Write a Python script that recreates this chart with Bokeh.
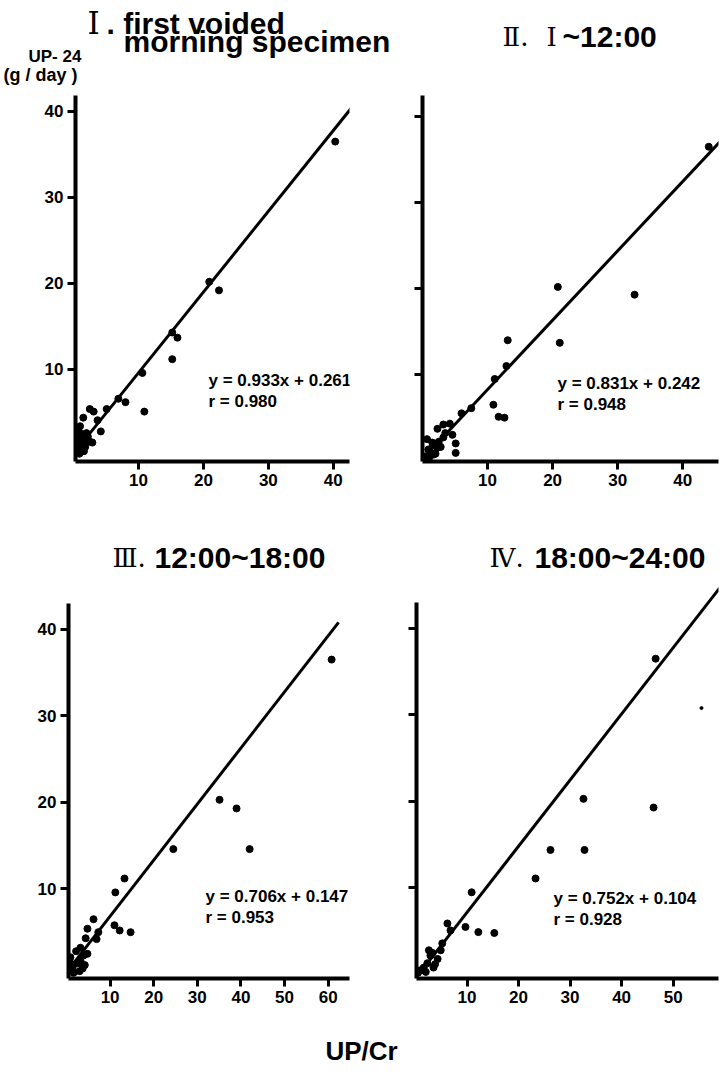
from bokeh.plotting import figure
from bokeh.models import Range1d, Label, FixedTicker
from bokeh.layouts import column, row
from bokeh.embed import file_html
from bokeh.resources import INLINE

# ---------------- data ----------------
# Panel I : first voided morning specimen
p1_x = [40.3, 20.9, 22.4, 15.2, 16.0, 15.2, 10.6, 10.9, 8.0, 6.9, 5.1, 2.5, 3.1, 1.5,
        4.2, 3.7, 2.9, 2.0, 1.2, 0.3, 0.5, 0.8, 1.0, 0.4, 1.2, 0.6, 1.5, 2.0, 1.8,
        2.5, 0.2, 0.9, 1.3, 0.7, 2.2, 0.5, 1.6, 0.3, 1.0]
p1_y = [36.5, 20.2, 19.2, 14.3, 13.7, 11.2, 9.6, 5.1, 6.2, 6.6, 5.4, 5.4, 5.1, 4.4,
        2.8, 4.1, 1.5, 2.6, 2.1, 0.3, 0.8, 0.5, 1.2, 1.5, 0.7, 2.0, 1.5, 1.8, 1.0,
        1.6, 0.6, 0.2, 2.5, 3.0, 2.2, 1.1, 0.5, 2.4, 3.4]
p1_line_x = [0.3, 43.0]
p1_line_y = [0.5, 40.6]

# Panel II : I ~ 12:00
p2_x = [44.0, 20.8, 32.6, 21.1, 13.1, 12.9, 11.1, 10.9, 11.7, 12.6, 7.5, 6.0, 4.2,
        3.2, 2.3, 4.6, 5.1, 5.1, 3.2, 2.8, 1.5, 0.9, 1.7, 2.3, 0.5, 1.0, 1.2, 2.0,
        1.6, 2.5, 3.5, 0.7]
p2_y = [36.5, 20.2, 19.3, 13.7, 14.0, 11.0, 9.5, 6.5, 5.1, 5.0, 6.1, 5.5, 4.3,
        4.2, 3.7, 3.0, 2.0, 0.9, 2.7, 1.6, 2.1, 1.3, 0.7, 1.5, 0.5, 0.3, 1.0, 0.8,
        1.8, 2.2, 3.2, 2.5]
p2_line_x = [0.5, 46.0]
p2_line_y = [0.6, 37.3]

# Panel III : 12:00 ~ 18:00
p3_x = [60.8, 35.1, 39.0, 42.0, 24.5, 13.3, 11.2, 6.2, 4.8, 4.4, 6.9, 7.3, 11.0,
        12.2, 14.7, 3.2, 0.9, 1.4, 3.9, 3.7, 2.5, 4.8, 3.2, 1.6, 2.2, 4.2, 3.0, 0.8]
p3_y = [36.5, 20.3, 19.3, 14.6, 14.6, 11.2, 9.6, 6.5, 5.4, 4.3, 4.2, 5.0, 5.8,
        5.2, 5.0, 3.2, 2.1, 0.9, 2.3, 0.8, 1.4, 2.5, 1.7, 0.3, 2.8, 1.2, 0.5, 1.5]
p3_line_x = [1.6, 62.4]
p3_line_y = [1.4, 40.8]

# Panel IV : 18:00 ~ 24:00
p4_x = [46.6, 32.6, 46.2, 26.2, 32.8, 23.3, 10.9, 9.7, 12.2, 15.3, 6.2, 6.8,
        3.3, 4.3, 2.3, 1.0, 3.5, 2.9, 1.6, 4.9, 5.2, 2.0, 0.5, 3.8, 2.6]
p4_y = [36.5, 20.3, 19.3, 14.4, 14.4, 11.1, 9.5, 5.5, 4.9, 4.8, 5.9, 5.1,
        2.5, 1.8, 1.3, 0.5, 0.8, 2.2, 0.8, 2.8, 3.6, 0.3, 0.2, 1.2, 2.8]
p4_faint_x = [55.5]
p4_faint_y = [30.8]
p4_line_x = [1.0, 59.2]
p4_line_y = [0.3, 44.8]

y_ticks = [10, 20, 30, 40]
x_ticks_1 = [10, 20, 30, 40]
x_ticks_2 = [10, 20, 30, 40]
x_ticks_3 = [10, 20, 30, 40, 50, 60]
x_ticks_4 = [10, 20, 30, 40, 50]

eq_texts = [("y = 0.933x + 0.261", "r = 0.980"),
            ("y = 0.831x + 0.242", "r = 0.948"),
            ("y = 0.706x + 0.147", "r = 0.953"),
            ("y = 0.752x + 0.104", "r = 0.928")]

# ---------------- styling ----------------
SANS = "Liberation Sans"
SERIF = "DejaVu Serif"
TICK_FS = "17px"


def make_panel(c, xs, ys, lx, ly, xticks, show_ylabels, ybounds=None):
    p = figure(width=c["W"], height=c["H"],
               x_range=Range1d(*c["xr"]), y_range=Range1d(*c["yr"]),
               min_border_left=c["L"] - c["ox"], min_border_right=c["ox"] + c["W"] - c["R"],
               min_border_top=c["T"] - c["oy"], min_border_bottom=c["oy"] + c["H"] - c["B"],
               output_backend="svg", toolbar_location=None)
    p.outline_line_color = None
    p.grid.visible = False
    p.background_fill_color = "white"
    p.border_fill_color = "white"
    p.title.visible = False
    for ax, ticks in ((p.xaxis[0], xticks), (p.yaxis[0], y_ticks)):
        ax.ticker = FixedTicker(ticks=ticks)
        ax.axis_line_width = 4
        ax.axis_line_color = "black"
        ax.major_tick_line_width = 3
        ax.major_tick_line_color = "black"
        ax.major_tick_out = 8
        ax.major_tick_in = 0
        ax.minor_tick_line_color = None
        ax.major_label_text_font = SANS
        ax.major_label_text_font_style = "bold"
        ax.major_label_text_font_size = TICK_FS
        ax.major_label_text_color = "black"
        ax.major_label_standoff = 4
    if not show_ylabels:
        p.yaxis[0].major_label_text_color = None
    if ybounds is not None:
        p.yaxis[0].bounds = ybounds
    p.line(lx, ly, line_width=3, line_color="black")
    p.scatter(xs, ys, size=7, fill_color="black", line_color="black")
    return p


def to_data(c, px, py):
    x0, x1 = c["xr"]
    y0, y1 = c["yr"]
    x = x0 + (px - c["L"]) * (x1 - x0) / (c["R"] - c["L"])
    y = y0 + (c["B"] - py) * (y1 - y0) / (c["B"] - c["T"])
    return x, y


def add_text(p, c, px, py, text, size, font=SANS, style="bold", align="left"):
    # py is the vertical centre of the text
    x, y = to_data(c, px, py)
    p.add_layout(Label(x=x, y=y, text=text, text_font=font, text_font_size=size,
                       text_font_style=style, text_align=align,
                       text_baseline="middle", text_color="black"))


def make_header(width, height):
    # a text strip whose data units are its own pixels, y growing downward
    h = figure(width=width, height=height, x_range=Range1d(0, width), y_range=Range1d(height, 0),
               x_axis_type=None, y_axis_type=None, output_backend="svg",
               toolbar_location=None, min_border=0)
    h.outline_line_color = None
    h.grid.visible = False
    h.title.visible = False
    return h


def head_text(h, px, py, text, size, font=SANS, style="bold", align="left"):
    # py is the vertical centre of the text
    h.add_layout(Label(x=px, y=py, text=text, text_font=font, text_font_size=size,
                       text_font_style=style, text_align=align, text_baseline="middle",
                       text_color="black"))


# page-pixel layout of each panel (frames of a row share top and bottom edges)
H1_TOP, ROW1_TOP, H2_TOP, ROW2_TOP, FOOT_TOP = 0, 88, 530, 576, 1020
c1 = dict(ox=0, oy=ROW1_TOP, W=361, H=H2_TOP - ROW1_TOP, L=75, R=349, T=95, B=461,
          xr=(0.3, 42.5), yr=(-0.7, 41.86))
c2 = dict(ox=361, oy=ROW1_TOP, W=361, H=H2_TOP - ROW1_TOP, L=422, R=718, T=95, B=461,
          xr=(0.0, 45.5), yr=(-0.1, 42.46))
c3 = dict(ox=0, oy=ROW2_TOP, W=361, H=FOOT_TOP - ROW2_TOP, L=68, R=349, T=576, B=978,
          xr=(0.46, 64.9), yr=(-0.35, 46.1))
c4 = dict(ox=361, oy=ROW2_TOP, W=361, H=FOOT_TOP - ROW2_TOP, L=416, R=718, T=576, B=978,
          xr=(0.2, 58.8), yr=(-0.46, 46.0))

p1 = make_panel(c1, p1_x, p1_y, p1_line_x, p1_line_y, x_ticks_1, True)
p2 = make_panel(c2, p2_x, p2_y, p2_line_x, p2_line_y, x_ticks_2, False)
p3 = make_panel(c3, p3_x, p3_y, p3_line_x, p3_line_y, x_ticks_3, True, ybounds=(-0.35, 43.0))
p4 = make_panel(c4, p4_x, p4_y, p4_line_x, p4_line_y, x_ticks_4, False, ybounds=(-0.46, 43.0))
p4.scatter(p4_faint_x, p4_faint_y, size=3, fill_color="black", line_color="black")

# regression equations
eq_pos = [(p1, c1, 208, 380, 401), (p2, c2, 557, 383, 404),
          (p3, c3, 205, 896, 917), (p4, c4, 553, 898, 919)]
for (p, c, px, m1, m2), (t1, t2) in zip(eq_pos, eq_texts):
    add_text(p, c, px, m1, t1, "17px")
    add_text(p, c, px, m2, t2, "17px")

# header strip above the top row
TITLE_FS = "30px"
ROMAN_FS = "26px"
h1 = make_header(722, ROW1_TOP - H1_TOP)
head_text(h1, 87, 22, "Ⅰ", "31px", font=SERIF, style="normal")
head_text(h1, 106, 23, ". first voided", TITLE_FS)
head_text(h1, 123, 41, "morning specimen", TITLE_FS)
head_text(h1, 28, 56, "UP- 24", "17px")
head_text(h1, 3, 74, "(g / day )", "18px")
head_text(h1, 502, 36, "Ⅱ.", ROMAN_FS, font=SERIF, style="normal")
head_text(h1, 546, 36, "Ⅰ", ROMAN_FS, font=SERIF, style="normal")
head_text(h1, 562, 36, "~12:00", TITLE_FS)

# header strip above the bottom row
h2 = make_header(722, ROW2_TOP - H2_TOP)
head_text(h2, 112, 557 - H2_TOP, "Ⅲ.", ROMAN_FS, font=SERIF, style="normal")
head_text(h2, 154, 557 - H2_TOP, "12:00~18:00", TITLE_FS)
head_text(h2, 489, 557 - H2_TOP, "Ⅳ.", ROMAN_FS, font=SERIF, style="normal")
head_text(h2, 534, 557 - H2_TOP, "18:00~24:00", TITLE_FS)

# common x-axis caption
p5 = make_header(722, 1077 - FOOT_TOP)
head_text(p5, 361, 1050 - FOOT_TOP, "UP/Cr", "26px", align="center")

layout = column(h1, row(p1, p2), h2, row(p3, p4), p5)
open("out.html", "w").write(file_html(layout, INLINE))
